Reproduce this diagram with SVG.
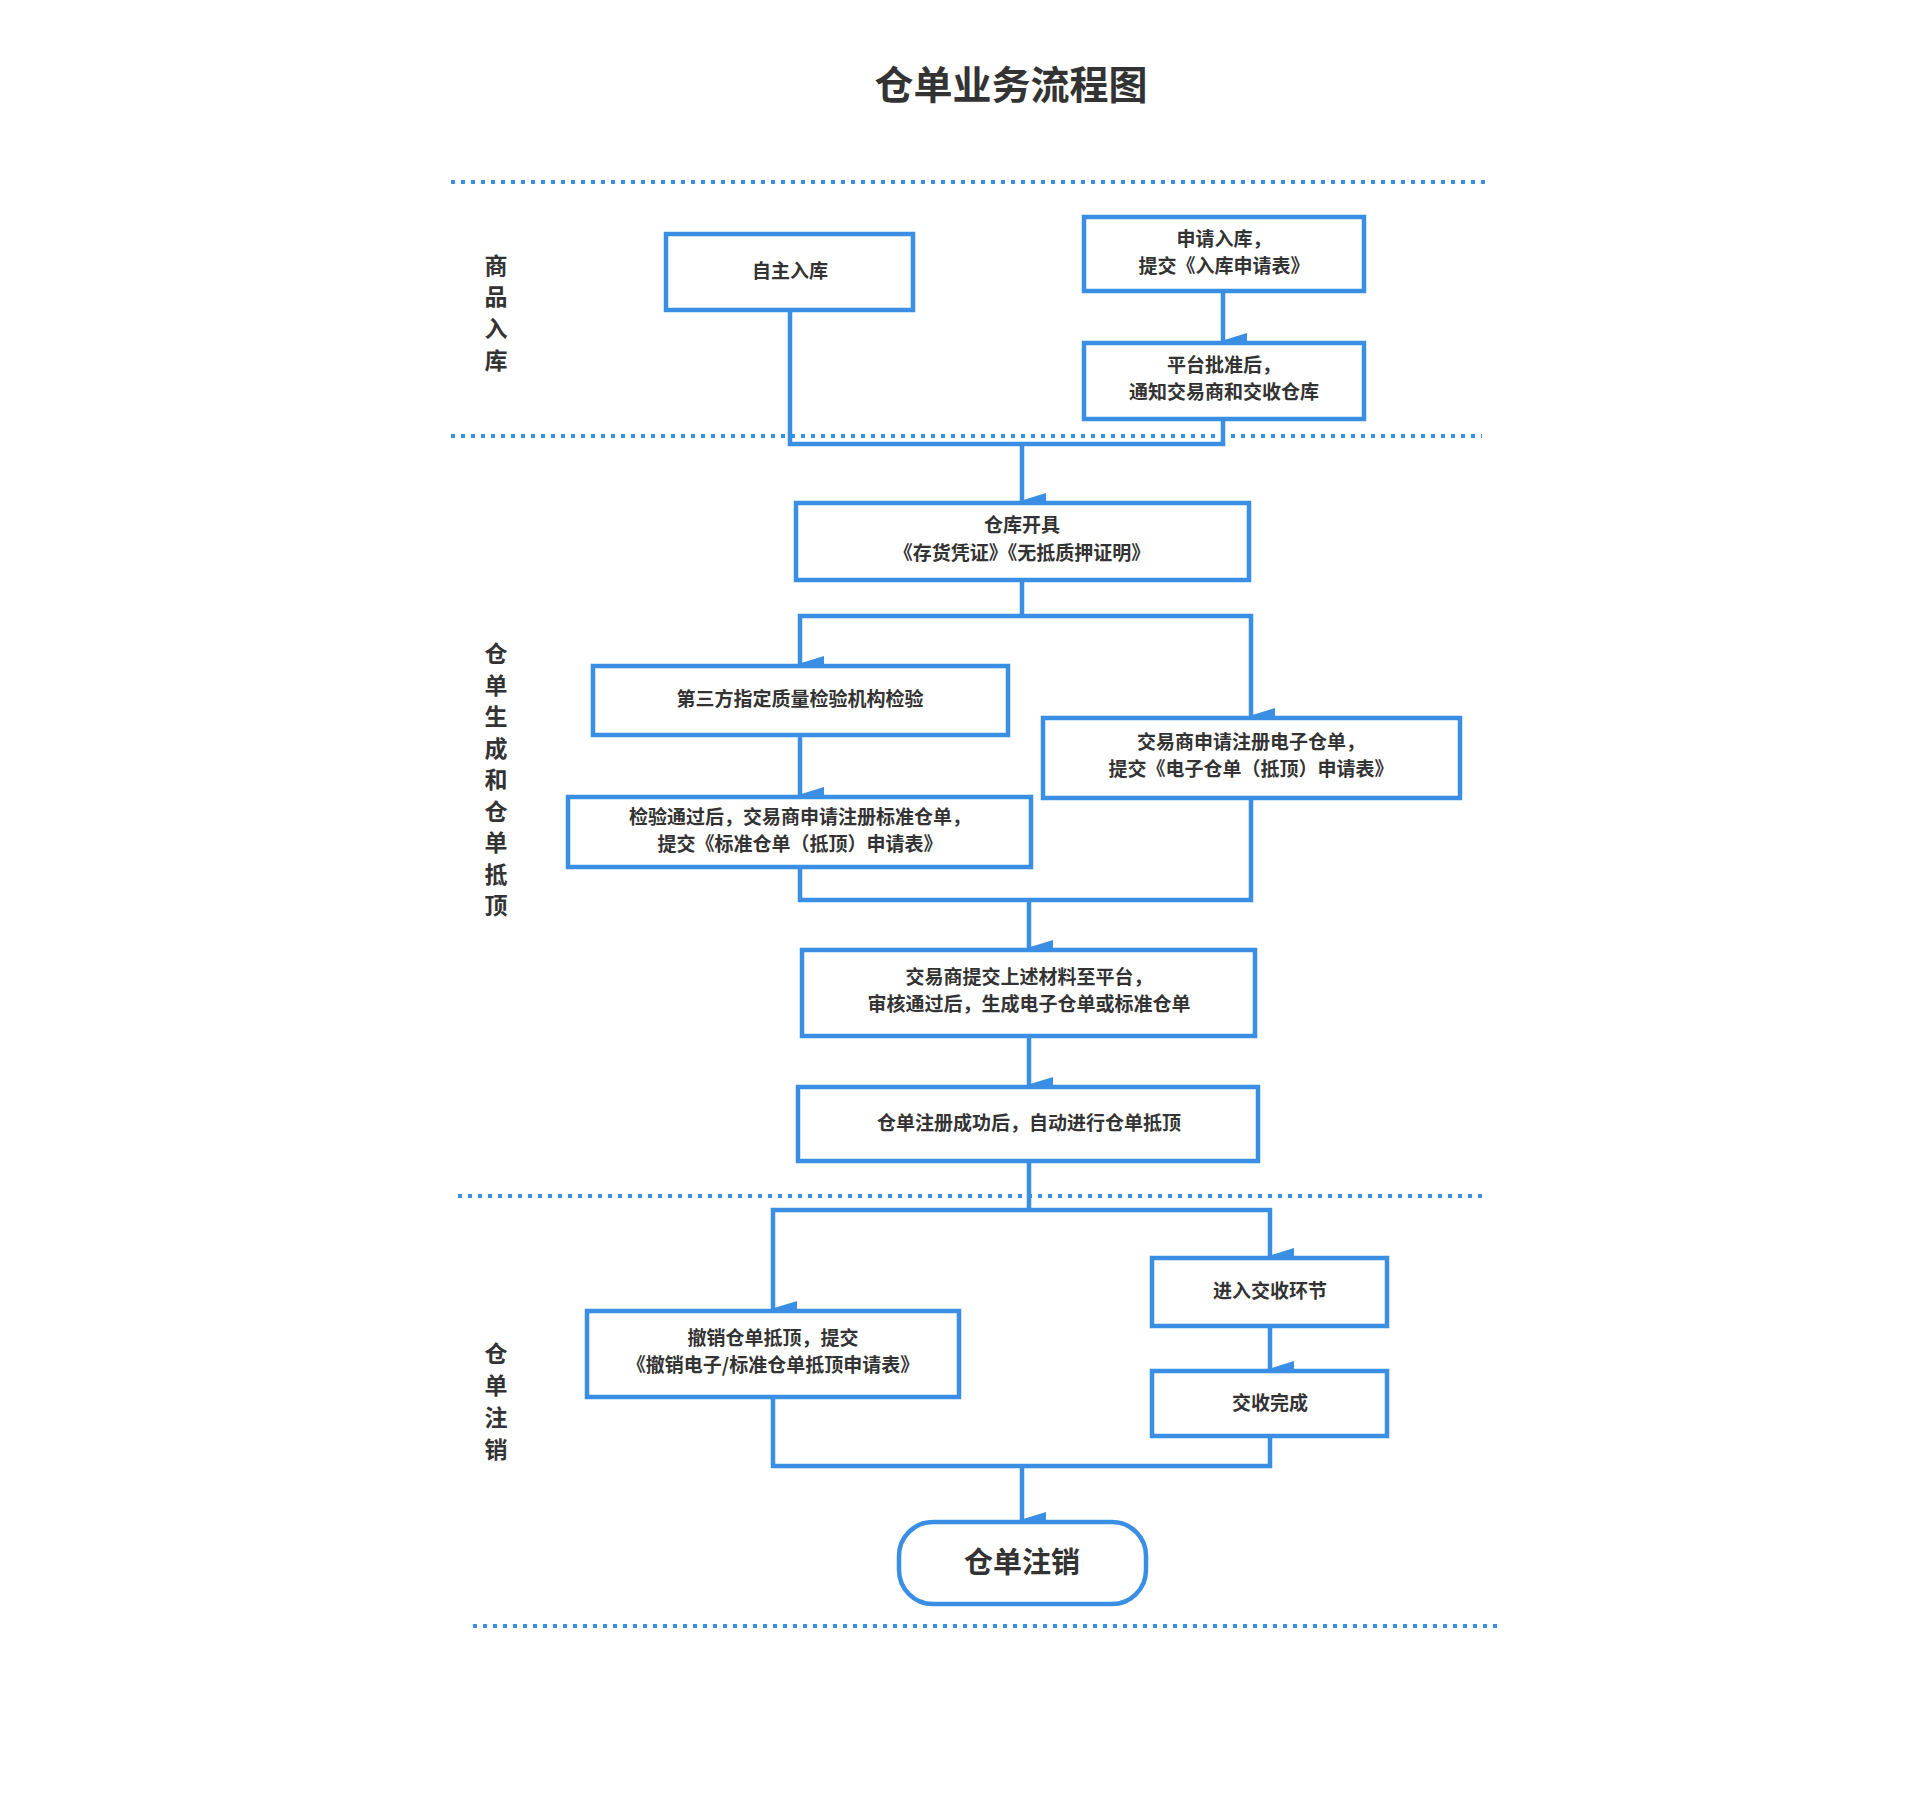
<svg xmlns="http://www.w3.org/2000/svg" width="1920" height="1808" viewBox="0 0 1920 1808">
<style>
.b{fill:#fff;stroke:#3a8ee3;stroke-width:4.5}
.t{font-family:"Noto Sans CJK SC","Noto Sans",sans-serif;font-weight:bold;font-size:19px;fill:#333;text-anchor:middle}
.l{font-family:"Noto Sans CJK SC",sans-serif;font-weight:bold;font-size:23px;fill:#333;text-anchor:middle}
.d{stroke:#3a8ee3;stroke-width:4;stroke-dasharray:4 6;fill:none}
.c{stroke:#3a8ee3;stroke-width:4.5;fill:none;marker-end:url(#a)}
.n{stroke:#3a8ee3;stroke-width:4.5;fill:none}
</style>
<defs><marker id="a" markerUnits="userSpaceOnUse" markerWidth="16" markerHeight="26" refX="8" refY="24" orient="auto-start-reverse" viewBox="0 0 16 26"><path d="M0,0 L16,0 L8,26 Z" fill="#3a8ee3" transform="rotate(-90 8 13) rotate(90 8 13)"/></marker></defs>
<rect width="1920" height="1808" fill="#fff"/>
<text x="1011" y="99" class="t" style="font-size:39px">仓单业务流程图</text>
<g id="lanes">
<path class="d" d="M451,182H1490M451,436H1482M458,1196H1485M473,1626H1499"/>
<text class="l" x="496"><tspan x="496" y="274">商</tspan><tspan x="496" y="305">品</tspan><tspan x="496" y="337">入</tspan><tspan x="496" y="369">库</tspan></text>
<text class="l" x="496"><tspan x="496" y="662">仓</tspan><tspan x="496" y="694">单</tspan><tspan x="496" y="725">生</tspan><tspan x="496" y="757">成</tspan><tspan x="496" y="788">和</tspan><tspan x="496" y="820">仓</tspan><tspan x="496" y="851">单</tspan><tspan x="496" y="883">抵</tspan><tspan x="496" y="914">顶</tspan></text>
<text class="l" x="496"><tspan x="496" y="1362">仓</tspan><tspan x="496" y="1394">单</tspan><tspan x="496" y="1426">注</tspan><tspan x="496" y="1458">销</tspan></text>
</g>
<g id="connectors">
<path class="n" d="M790,310V444H1223V419"/>
<path class="c" d="M1022,444V501"/>
<path class="c" d="M1223,291V341"/>
<path class="n" d="M1022,580V616"/>
<path class="c" d="M1022,616H800V664"/>
<path class="c" d="M1022,616H1251V716"/>
<path class="c" d="M800,735V795"/>
<path class="n" d="M800,867V900H1251V798"/>
<path class="c" d="M1029,900V948"/>
<path class="c" d="M1029,1036V1085"/>
<path class="n" d="M1029,1161V1210"/>
<path class="c" d="M1029,1210H773V1309"/>
<path class="c" d="M1029,1210H1270V1256"/>
<path class="c" d="M1270,1326V1369"/>
<path class="n" d="M773,1397V1466H1270V1436"/>
<path class="c" d="M1022,1466V1520"/>
</g>
<g id="n1"><rect class="b" x="666" y="234" width="247" height="76"/><text class="t" x="790" y="278">自主入库</text></g>
<g id="n2"><rect class="b" x="1084" y="217" width="280" height="74"/><text class="t" x="1224" y="246">申请入库，</text><text class="t" x="1224" y="273">提交《入库申请表》</text></g>
<g id="n3"><rect class="b" x="1084" y="343" width="280" height="76"/><text class="t" x="1224" y="372">平台批准后，</text><text class="t" x="1224" y="399">通知交易商和交收仓库</text></g>
<g id="n4"><rect class="b" x="796" y="503" width="453" height="77"/><text class="t" x="1022" y="532">仓库开具</text><text class="t" x="1022" y="560">《存货凭证》《无抵质押证明》</text></g>
<g id="n5"><rect class="b" x="593" y="666" width="415" height="69"/><text class="t" x="800" y="706">第三方指定质量检验机构检验</text></g>
<g id="n6"><rect class="b" x="568" y="797" width="463" height="70"/><text class="t" x="800" y="824">检验通过后，交易商申请注册标准仓单，</text><text class="t" x="800" y="851">提交《标准仓单（抵顶）申请表》</text></g>
<g id="n7"><rect class="b" x="1043" y="718" width="417" height="80"/><text class="t" x="1251" y="749">交易商申请注册电子仓单，</text><text class="t" x="1251" y="776">提交《电子仓单（抵顶）申请表》</text></g>
<g id="n8"><rect class="b" x="802" y="950" width="453" height="86"/><text class="t" x="1029" y="984">交易商提交上述材料至平台，</text><text class="t" x="1029" y="1011">审核通过后，生成电子仓单或标准仓单</text></g>
<g id="n9"><rect class="b" x="798" y="1087" width="460" height="74"/><text class="t" x="1029" y="1130">仓单注册成功后，自动进行仓单抵顶</text></g>
<g id="n10"><rect class="b" x="1152" y="1258" width="235" height="68"/><text class="t" x="1270" y="1298">进入交收环节</text></g>
<g id="n11"><rect class="b" x="1152" y="1371" width="235" height="65"/><text class="t" x="1270" y="1410">交收完成</text></g>
<g id="n12"><rect class="b" x="587" y="1311" width="372" height="86"/><text class="t" x="773" y="1345">撤销仓单抵顶，提交</text><text class="t" x="773" y="1372">《撤销电子/标准仓单抵顶申请表》</text></g>
<g id="n13"><rect class="b" x="899" y="1522" width="247" height="82" rx="34"/><text class="t" x="1022" y="1573" style="font-size:29px">仓单注销</text></g>
</svg>
